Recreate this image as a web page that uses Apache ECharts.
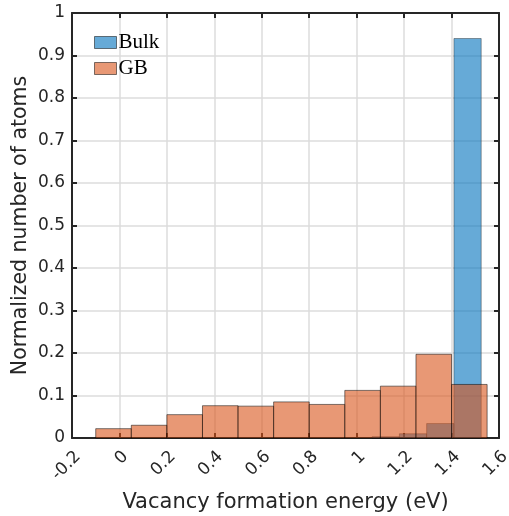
<!DOCTYPE html>
<html><head><meta charset="utf-8">
<script src="https://cdn.jsdelivr.net/npm/echarts@6/dist/echarts.min.js"></script>
<style>html,body{margin:0;padding:0;background:#fff}#c{width:509px;height:516px}</style>
</head><body><div id="c"></div>
<script>
var gbEdges = [-0.1, 0.05, 0.2, 0.35, 0.5, 0.65, 0.8, 0.95, 1.1, 1.25, 1.4, 1.55];
var gbValues = [0.022, 0.030, 0.055, 0.076, 0.075, 0.085, 0.079, 0.112, 0.122, 0.197, 0.126];
var bulkEdges = [1.065, 1.18, 1.295, 1.41, 1.525];
var bulkValues = [0.003, 0.010, 0.034, 0.940];
var xTicks = [-0.2, 0, 0.2, 0.4, 0.6, 0.8, 1, 1.2, 1.4, 1.6];
var yTicks = [0, 0.1, 0.2, 0.3, 0.4, 0.5, 0.6, 0.7, 0.8, 0.9, 1];

function toData(edges, vals){
  var d = [];
  for (var i = 0; i < vals.length; i++) d.push([edges[i], edges[i+1], vals[i]]);
  return d;
}
function mkRender(fill, stroke){
  return function(params, api){
    var p0 = api.coord([api.value(0), api.value(2)]);
    var p1 = api.coord([api.value(1), 0]);
    return {type:'rect', shape:{x:p0[0], y:p0[1], width:p1[0]-p0[0], height:p1[1]-p0[1]},
      style:{fill:fill, stroke:stroke, lineWidth:1}};
  };
}
var txt = '#262626';
var fmt = function(v){ return String(parseFloat(Number(v).toFixed(2))); };
var chart = echarts.init(document.getElementById('c'));
chart.setOption({
  animation:false,
  grid:{left:72, right:10, top:13, bottom:78, containLabel:false, outerBoundsMode:'none'},
  legend:{orient:'vertical', left:94, top:32, padding:0, itemWidth:22, itemHeight:12, itemGap:5,
    textStyle:{fontFamily:'Liberation Serif', fontSize:21, color:'#000', lineHeight:20, padding:[0,0,0,-3]},
    data:[{name:'Bulk', icon:'rect', itemStyle:{color:'rgba(0,114,189,0.6)', borderColor:'rgba(0,0,0,0.5)', borderWidth:1}},
          {name:'GB', icon:'rect', itemStyle:{color:'rgba(217,83,25,0.6)', borderColor:'rgba(0,0,0,0.5)', borderWidth:1}}]},
  xAxis:[{type:'value', min:-0.2, max:1.6, interval:0.2, position:'bottom',
    name:'Vacancy formation energy (eV)', nameLocation:'middle', nameGap:54,
    nameTextStyle:{fontFamily:'DejaVu Sans', fontSize:21, color:txt},
    axisLine:{show:true, onZero:false, lineStyle:{color:txt, width:2}},
    axisTick:{show:true, inside:true, length:5, lineStyle:{color:txt, width:2}},
    axisLabel:{rotate:45, fontFamily:'DejaVu Sans', fontSize:17, color:txt, margin:10, verticalAlign:'top', formatter:fmt, showMinLabel:true, showMaxLabel:true},
    splitLine:{show:true, lineStyle:{color:'#dcdcdc', width:1.5}}},
   {type:'value', min:-0.2, max:1.6, interval:0.2, position:'top',
    axisLine:{show:true, onZero:false, lineStyle:{color:txt, width:2}},
    axisTick:{show:true, inside:true, length:5, lineStyle:{color:txt, width:2}},
    axisLabel:{show:false}, splitLine:{show:false}}],
  yAxis:[{type:'value', min:0, max:1, interval:0.1, position:'left',
    name:'Normalized number of atoms', nameLocation:'middle', nameGap:41, nameMoveOverlap:false,
    nameTextStyle:{fontFamily:'DejaVu Sans', fontSize:20.5, color:txt},
    axisLine:{show:true, onZero:false, lineStyle:{color:txt, width:2}},
    axisTick:{show:true, inside:true, length:5, lineStyle:{color:txt, width:2}},
    axisLabel:{fontFamily:'DejaVu Sans', fontSize:17, color:txt, margin:7, formatter:fmt},
    splitLine:{show:true, lineStyle:{color:'#dcdcdc', width:1.5}}},
   {type:'value', min:0, max:1, interval:0.1, position:'right',
    axisLine:{show:true, onZero:false, lineStyle:{color:txt, width:2}},
    axisTick:{show:true, inside:true, length:5, lineStyle:{color:txt, width:2}},
    axisLabel:{show:false}, splitLine:{show:false}}],
  series:[
    {name:'Bulk', type:'custom', xAxisIndex:0, yAxisIndex:0, encode:{x:[0,1], y:2},
     renderItem:mkRender('rgba(0,114,189,0.6)', 'rgba(0,0,0,0.35)'), data:toData(bulkEdges, bulkValues)},
    {name:'GB', type:'custom', xAxisIndex:0, yAxisIndex:0, encode:{x:[0,1], y:2},
     renderItem:mkRender('rgba(217,83,25,0.6)', 'rgba(0,0,0,0.5)'), data:toData(gbEdges, gbValues)}
  ]
});
</script></body></html>
